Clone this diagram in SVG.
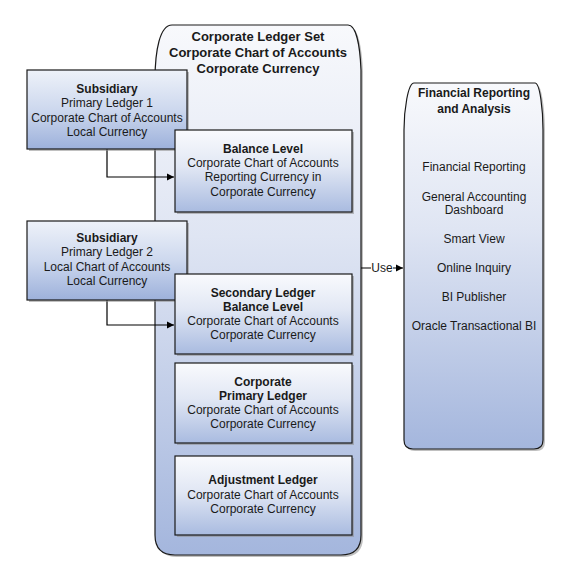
<svg xmlns="http://www.w3.org/2000/svg" width="575" height="584" viewBox="0 0 575 584">
<defs>
<linearGradient id="gBox" x1="0" y1="0" x2="0" y2="1">
<stop offset="0" stop-color="#f9fafd"/>
<stop offset="0.45" stop-color="#e1e7f4"/>
<stop offset="1" stop-color="#a9bbe0"/>
</linearGradient>
<linearGradient id="gSub" x1="0" y1="0" x2="0" y2="1">
<stop offset="0" stop-color="#eef2f9"/>
<stop offset="0.5" stop-color="#cdd8ee"/>
<stop offset="1" stop-color="#9db1db"/>
</linearGradient>
<linearGradient id="gCont" x1="0" y1="0" x2="0" y2="1">
<stop offset="0" stop-color="#f8f9fc"/>
<stop offset="0.4" stop-color="#dfe5f3"/>
<stop offset="1" stop-color="#a4b6dd"/>
</linearGradient>
<marker id="arr" markerWidth="8" markerHeight="8" refX="7" refY="4" orient="auto" markerUnits="userSpaceOnUse">
<path d="M0,0.5 L7,4 L0,7.5 Z" fill="#000"/>
</marker>
</defs>
<style>
.box{fill:url(#gBox);stroke:#1a1a1a;stroke-width:1.2}
.sub{fill:url(#gSub);stroke:#1a1a1a;stroke-width:1.2}
.cont{fill:url(#gCont);stroke:#1a1a1a;stroke-width:1.2}
.sh{fill:#8c8c8c;opacity:0.55}
.conn{fill:none;stroke:#000;stroke-width:1.2}
text{font-family:"Liberation Sans",Arial,sans-serif;font-size:12px;fill:#1a1a1a;text-anchor:middle}
.b{font-weight:bold}
.h{font-weight:bold;font-size:13px}
</style>

<g id="ledger-set">
<path class="sh" d="M174 27 L350 27 C358 27 362 47 363 72 L363 537 Q363 557 343 557 L177 557 Q157 557 157 537 L157 82 C157 52 162 27 174 27 Z"/>
<path class="cont" d="M172 25 L348 25 C356 25 360 45 361 70 L361 535 Q361 555 341 555 L175 555 Q155 555 155 535 L155 80 C155 50 160 25 172 25 Z"/>
<text class="h" x="258" y="41">Corporate Ledger Set</text>
<text class="h" x="258" y="57">Corporate Chart of Accounts</text>
<text class="h" x="258" y="73">Corporate Currency</text>
</g>

<g id="reporting">
<path class="sh" d="M416 85 L537 85 C542 85 545 112 545 132 L545 442 Q545 451 536 451 L415 451 Q406 451 406 442 L406 132 C406 112 410 85 416 85 Z"/>
<path class="cont" d="M414 83 L535 83 C540 83 543 110 543 130 L543 440 Q543 449 534 449 L413 449 Q404 449 404 440 L404 130 C404 110 408 83 414 83 Z"/>
<text class="b" x="474" y="97">Financial Reporting</text>
<text class="b" x="474" y="113">and Analysis</text>
<text x="474" y="171">Financial Reporting</text>
<text x="474" y="201">General Accounting</text>
<text x="474" y="214">Dashboard</text>
<text x="474" y="243">Smart View</text>
<text x="474" y="272">Online Inquiry</text>
<text x="474" y="301">BI Publisher</text>
<text x="474" y="330">Oracle Transactional BI</text>
</g>

<g id="connectors">
<path class="conn" d="M107 149 L107 177 L174 177" marker-end="url(#arr)"/>
<path class="conn" d="M107 300 L107 325 L174 325" marker-end="url(#arr)"/>
<path class="conn" d="M361 268 L403 268" marker-end="url(#arr)"/>
<rect x="371" y="260" width="22" height="16" fill="#fff"/>
<text x="382" y="272">Use</text>
</g>

<g id="subsidiary-1">
<rect class="sh" x="29" y="72" width="160" height="79"/>
<rect class="sub" x="27" y="70" width="160" height="79"/>
<text class="b" x="107" y="93">Subsidiary</text>
<text x="107" y="107">Primary Ledger 1</text>
<text x="107" y="122">Corporate Chart of Accounts</text>
<text x="107" y="136">Local Currency</text>
</g>

<g id="balance-level">
<rect class="sh" x="177" y="132" width="177" height="82"/>
<rect class="box" x="175" y="130" width="177" height="82"/>
<text class="b" x="263" y="153">Balance Level</text>
<text x="263" y="167">Corporate Chart of Accounts</text>
<text x="263" y="181">Reporting Currency in</text>
<text x="263" y="196">Corporate Currency</text>
</g>

<g id="subsidiary-2">
<rect class="sh" x="29" y="223" width="160" height="79"/>
<rect class="sub" x="27" y="221" width="160" height="79"/>
<text class="b" x="107" y="242">Subsidiary</text>
<text x="107" y="256">Primary Ledger 2</text>
<text x="107" y="271">Local Chart of Accounts</text>
<text x="107" y="285">Local Currency</text>
</g>

<g id="secondary-ledger">
<rect class="sh" x="177" y="276" width="177" height="80"/>
<rect class="box" x="175" y="274" width="177" height="80"/>
<text class="b" x="263" y="297">Secondary Ledger</text>
<text class="b" x="263" y="311">Balance Level</text>
<text x="263" y="325">Corporate Chart of Accounts</text>
<text x="263" y="339">Corporate Currency</text>
</g>

<g id="corporate-primary">
<rect class="sh" x="177" y="365" width="177" height="80"/>
<rect class="box" x="175" y="363" width="177" height="80"/>
<text class="b" x="263" y="386">Corporate</text>
<text class="b" x="263" y="400">Primary Ledger</text>
<text x="263" y="414">Corporate Chart of Accounts</text>
<text x="263" y="428">Corporate Currency</text>
</g>

<g id="adjustment-ledger">
<rect class="sh" x="177" y="458" width="177" height="79"/>
<rect class="box" x="175" y="456" width="177" height="79"/>
<text class="b" x="263" y="484">Adjustment Ledger</text>
<text x="263" y="499">Corporate Chart of Accounts</text>
<text x="263" y="513">Corporate Currency</text>
</g>
</svg>
